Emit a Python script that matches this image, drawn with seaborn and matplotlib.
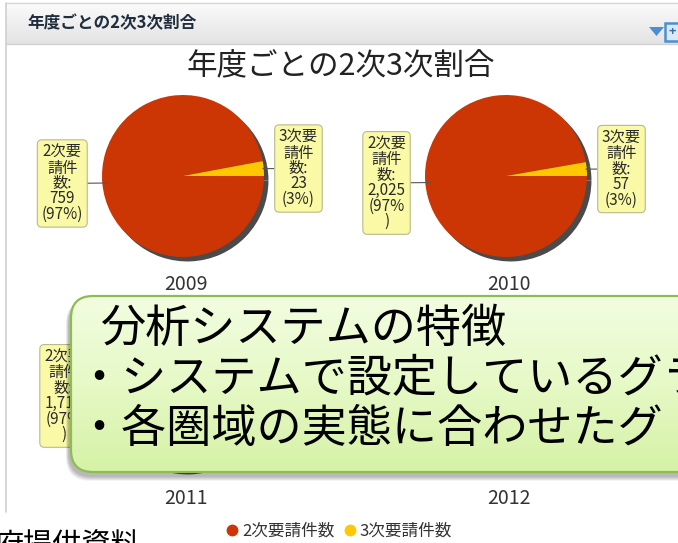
import numpy as np
import matplotlib
matplotlib.use("Agg")
import matplotlib.pyplot as plt
import seaborn as sns
from matplotlib.patches import FancyBboxPatch, Rectangle, Polygon
from matplotlib.lines import Line2D
from matplotlib.colors import LinearSegmentedColormap

# ---------------- data ----------------
years = ["2009", "2010", "2011", "2012"]
secondary = [759, 2025, 1714, None]     # 2次要請件数 (2012 hidden behind callout)
tertiary = [23, 57, 48, None]           # 3次要請件数
series_names = ["2次要請件数", "3次要請件数"]
label_prefix = ["2次要\n請件\n数:", "3次要\n請件\n数:"]
chart_title = "年度ごとの2次3次割合"
callout_lines = ["分析システムの特徴", "・システムで設定しているグラ", "・各圏域の実態に合わせたグ"]
source_note = "府提供資料"

# ---------------- style ----------------
sns.set_theme(style="white")
plt.rcParams["font.family"] = ["Noto Sans CJK JP", "DejaVu Sans"]
pie_colors = sns.color_palette(["#cc3604", "#ffc800"])
shadow_color = "#4a4a4a"

W, H = 678, 543
fig = plt.figure(figsize=(W / 100, H / 100), dpi=100)
fig.patch.set_facecolor("white")

# background / panel layer (pixel coordinates)
bg = fig.add_axes([0, 0, 1, 1], zorder=0)
grad = np.linspace(0, 1, 64).reshape(-1, 1)
hdr_cmap = LinearSegmentedColormap.from_list("hdr", ["#fbfbfb", "#e3e3e3"])
bg.imshow(grad, extent=(6, W, 44, 3), cmap=hdr_cmap, aspect="auto", zorder=0)
bg.plot([6, W], [3, 3], color="#d6d6d6", lw=1)
bg.plot([6, W], [44, 44], color="#d2d2d2", lw=1)
bg.plot([6, 6], [3, 512], color="#cfcfcf", lw=1.2)
bg.text(27, 23, chart_title, fontsize=12, fontweight="bold", color="#1f2d3d",
        va="center", ha="left")
bg.add_patch(Polygon([[649, 27], [664, 27], [656.5, 36]], closed=True,
                     facecolor="#4b8fd2", edgecolor="none"))
bg.add_patch(Rectangle((665, 23), 14, 18, facecolor="#dbe9f7", edgecolor="#4b8fd2", lw=1.8))
bg.text(672, 32, "+", fontsize=9, fontweight="bold", color="#2e6fb5", ha="center", va="center")
bg.text(341, 66, chart_title, fontsize=22, color="#222222", ha="center", va="center")
bg.set_xlim(0, W)
bg.set_ylim(H, 0)
bg.axis("off")

# ---------------- pies ----------------
R = 81.0
L = 1.12
col_x = [183, 506]
row_y = [176, 389]

for i, yr in enumerate(years):
    cx = col_x[i % 2]
    cy = row_y[i // 2]
    bg.text(cx + 3, cy + 109, yr, fontsize=14, color="#333333", ha="center", va="center")
    if secondary[i] is None:
        continue
    vals = [secondary[i], tertiary[i]]
    rect = [(cx - L * R) / W, (H - cy - L * R) / H, 2 * L * R / W, 2 * L * R / H]
    ax = fig.add_axes(rect, zorder=1)
    ax.pie(vals, colors=[shadow_color] * 2, startangle=0, counterclock=False,
           radius=1, center=(0.055, -0.055), wedgeprops=dict(linewidth=0))
    wedges, _ = ax.pie(vals, colors=pie_colors, startangle=0, counterclock=False,
                       radius=1, wedgeprops=dict(linewidth=0))
    total = sum(vals)
    for k, w in enumerate(wedges):
        mid = np.deg2rad((w.theta1 + w.theta2) / 2)
        pct = round(100 * vals[k] / total)
        pct_txt = f"({pct}%\n)" if vals[k] >= 1000 else f"({pct}%)"
        txt = f"{label_prefix[k]}\n{vals[k]:,}\n{pct_txt}"
        side = np.sign(np.cos(mid))
        r_in = 0.94 if side < 0 else 0.99
        tx = -1.235 if side < 0 else 1.185
        ax.annotate(txt, xy=(r_in * np.cos(mid), r_in * np.sin(mid)),
                    xytext=(tx, np.sin(mid)),
                    ha="right" if side < 0 else "left", va="center", ma="center",
                    fontsize=11, linespacing=0.88, color="#2a2a2a",
                    bbox=dict(boxstyle="round,pad=0.28,rounding_size=0.3",
                              facecolor="#fafaa6", edgecolor="#b9b98f", lw=0.8),
                    arrowprops=dict(arrowstyle="-", color="#555555", lw=0.8,
                                    shrinkA=0, shrinkB=0),
                    annotation_clip=False)
    ax.set_xlim(-L, L)
    ax.set_ylim(-L, L)
    ax.set_aspect("equal")
    ax.axis("off")

# ---------------- overlay callout ----------------
ov = fig.add_axes([0, 0, 1, 1], zorder=5)
ov.patch.set_alpha(0)
x0, y0, bw, bh = 71, 296, 660, 176
for s in range(6, 0, -1):
    ov.add_patch(FancyBboxPatch((x0 - 2 - s * 0.5, y0 + 4), bw, bh + s * 0.8,
                                boxstyle="round,pad=0,rounding_size=24",
                                facecolor="#000000", edgecolor="none", alpha=0.05, zorder=2))
box = FancyBboxPatch((x0, y0), bw, bh, boxstyle="round,pad=0,rounding_size=22",
                     facecolor="none", edgecolor="none", zorder=3)
ov.add_patch(box)
grn_cmap = LinearSegmentedColormap.from_list("grn", ["#f2fde0", "#e6f9c6", "#d6f2a6"])
im = ov.imshow(grad, extent=(x0, x0 + bw, y0 + bh, y0), cmap=grn_cmap, aspect="auto", zorder=3)
im.set_clip_path(box)
ov.add_patch(FancyBboxPatch((x0, y0), bw, bh, boxstyle="round,pad=0,rounding_size=22",
                            facecolor="none", edgecolor="#8dbd52", lw=1.6, zorder=4))
ov.text(101, 329, callout_lines[0], fontsize=32.5, color="black", ha="left", va="center", zorder=5)
ov.text(76, 379, callout_lines[1], fontsize=32.5, color="black", ha="left", va="center", zorder=5)
ov.text(76, 429, callout_lines[2], fontsize=32.5, color="black", ha="left", va="center", zorder=5)

ov.text(-6, 547, source_note, fontsize=21, color="black", ha="left", va="center", zorder=5)

handles = [Line2D([], [], marker="o", linestyle="", color=c, markersize=7.5) for c in pie_colors]
fig.legend(handles, series_names, loc="center", bbox_to_anchor=(338 / W, 1 - 531 / H),
           ncol=2, frameon=False, fontsize=12, handletextpad=0.1, columnspacing=0.4,
           handlelength=1.0, labelcolor="#333333")

ov.set_xlim(0, W)
ov.set_ylim(H, 0)
ov.axis("off")

fig.savefig("out.png", dpi=100, facecolor="white")
